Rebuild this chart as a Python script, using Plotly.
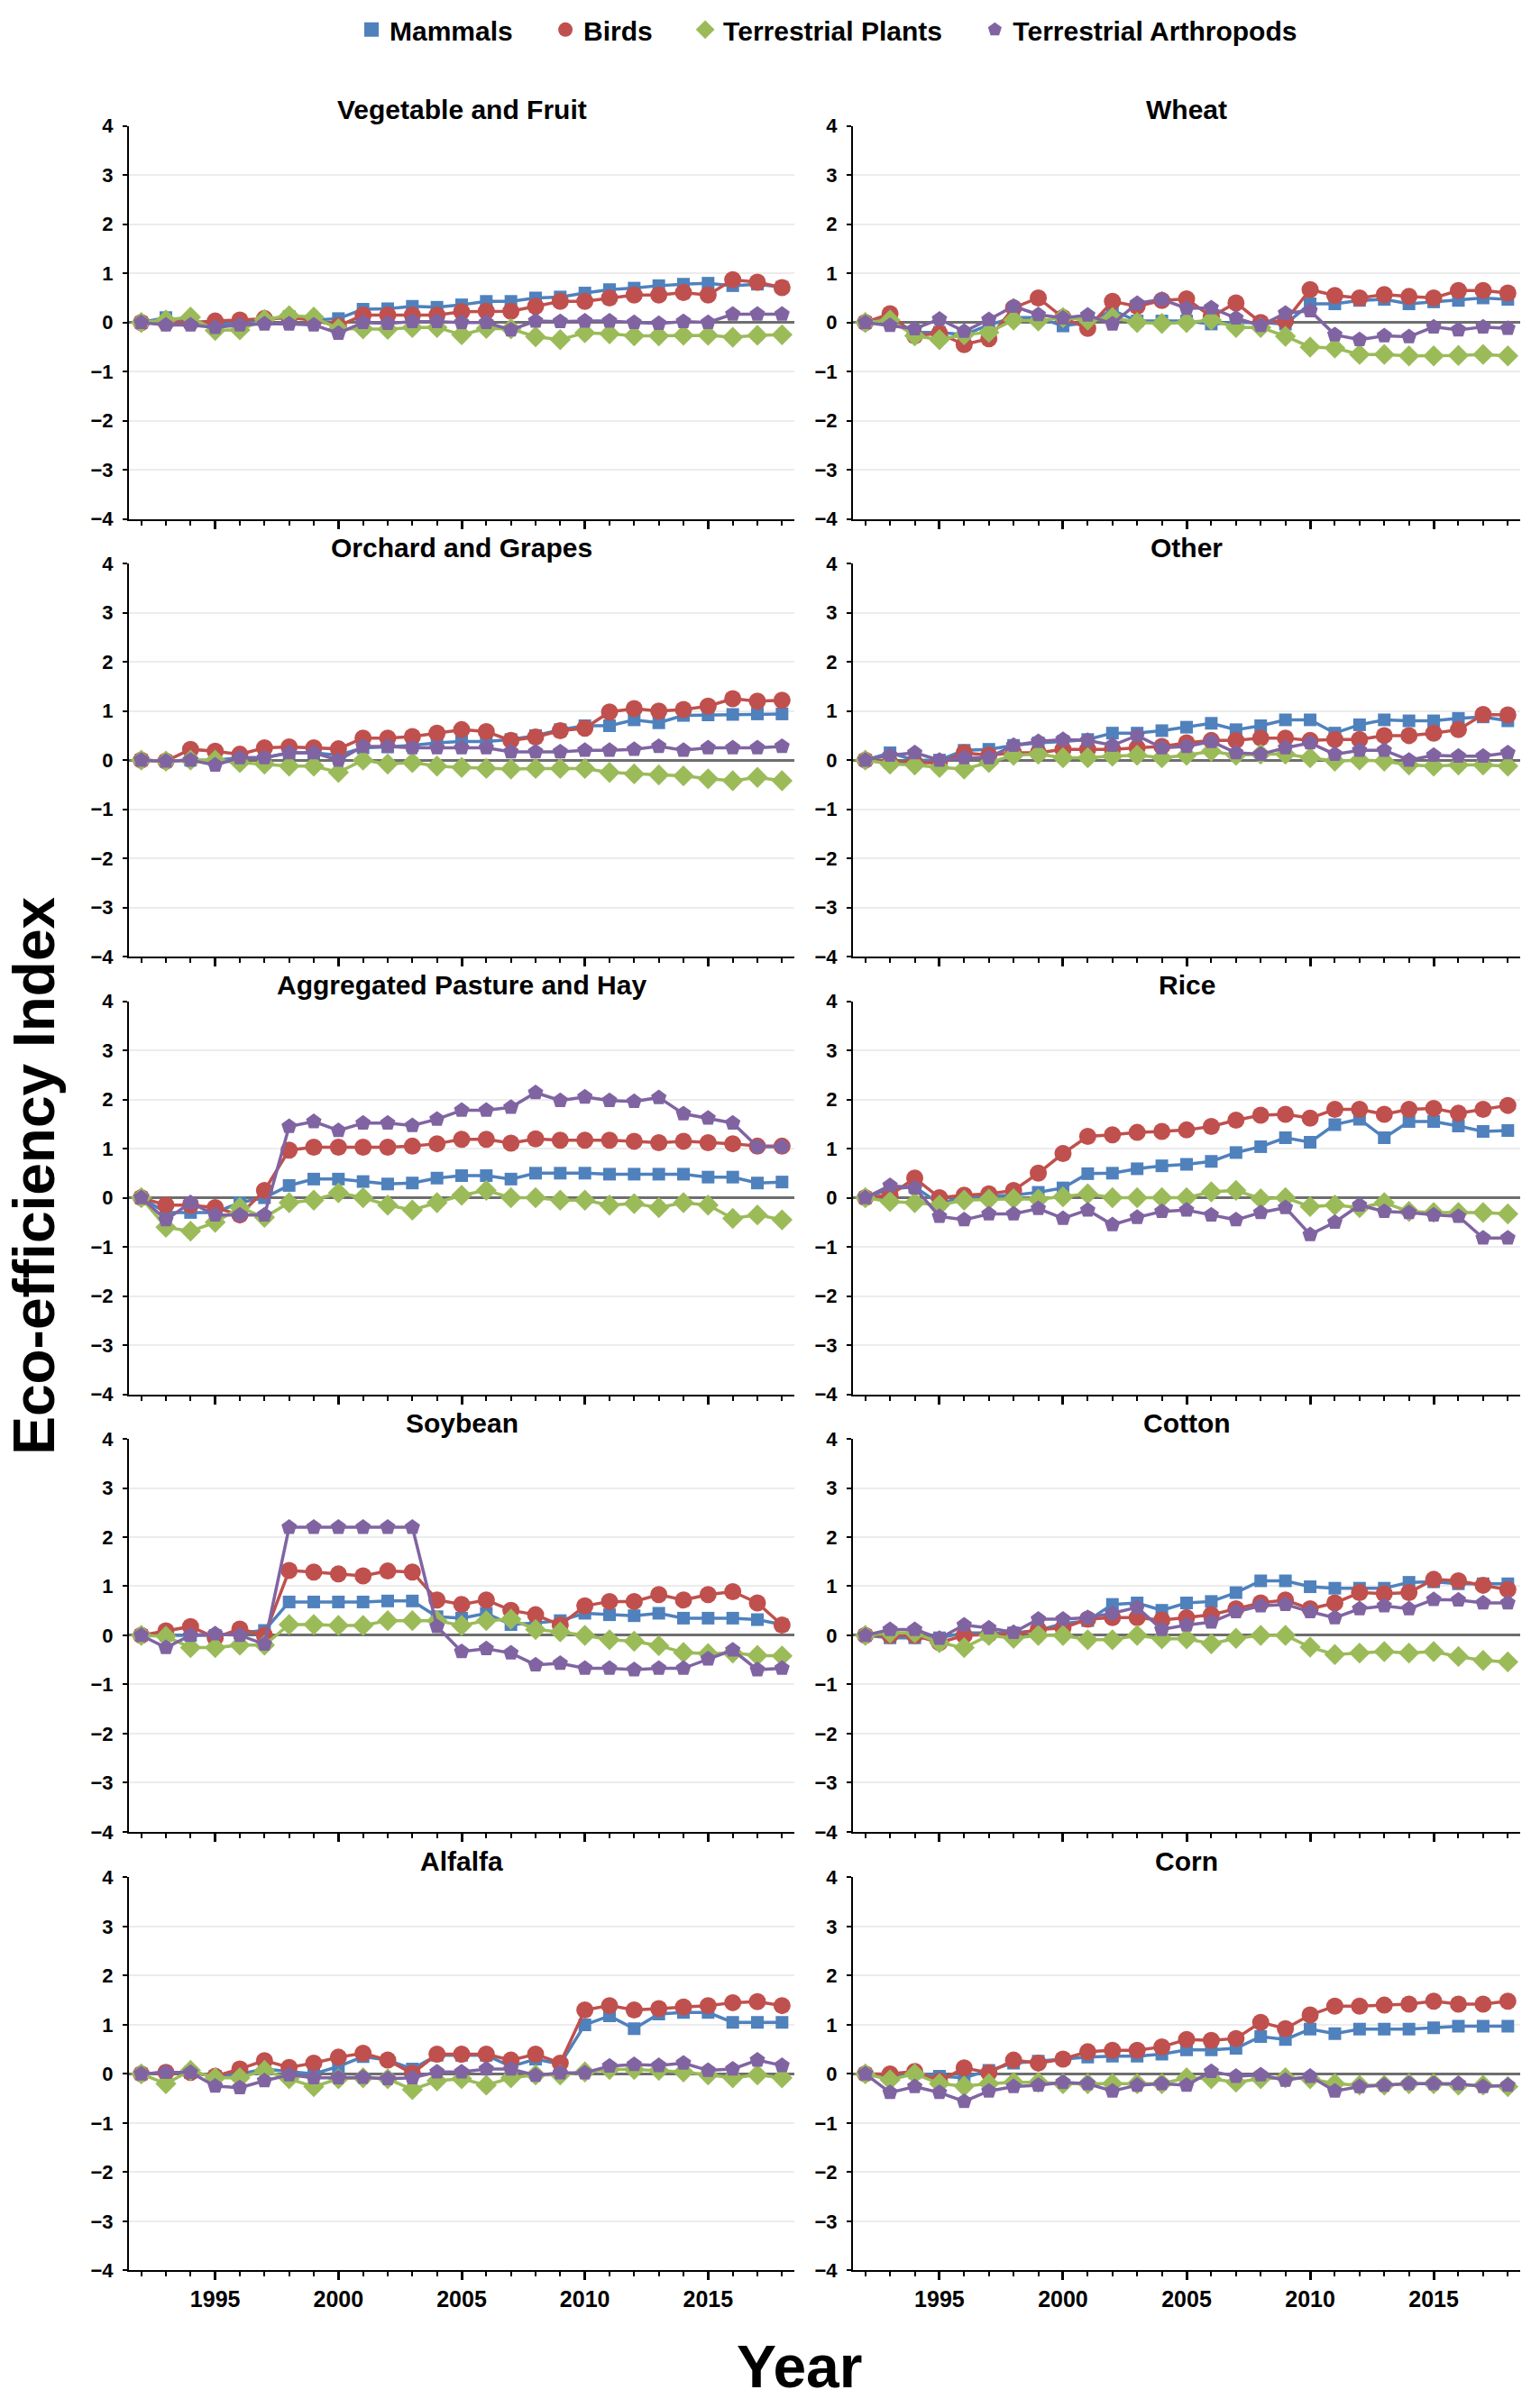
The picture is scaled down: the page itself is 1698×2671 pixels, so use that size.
import plotly.graph_objects as go

years = list(range(1992, 2019))

# values, 1992..2018
veg_mammals = [0, 0.1, 0.02, -0.05, 0.0, 0.05, 0.12, 0.05, 0.08, 0.27, 0.28, 0.33, 0.31, 0.36, 0.43, 0.43, 0.5, 0.52, 0.6, 0.67, 0.7, 0.75, 0.78, 0.8, 0.75, 0.78, 0.72]
veg_birds = [0, 0.0, 0.0, 0.03, 0.05, 0.08, 0.1, 0.05, -0.07, 0.15, 0.15, 0.15, 0.15, 0.22, 0.23, 0.23, 0.33, 0.43, 0.43, 0.5, 0.56, 0.56, 0.61, 0.56, 0.87, 0.82, 0.71]
veg_plants = [0, 0.05, 0.11, -0.16, -0.15, 0.06, 0.14, 0.11, -0.13, -0.13, -0.14, -0.1, -0.1, -0.25, -0.12, -0.13, -0.29, -0.35, -0.21, -0.23, -0.27, -0.27, -0.26, -0.26, -0.3, -0.26, -0.25]
veg_arthropods = [0, -0.05, -0.05, -0.1, -0.05, -0.03, -0.03, -0.05, -0.22, 0.0, -0.02, 0.02, 0.02, 0.0, 0.0, -0.15, 0.03, 0.02, 0.03, 0.03, 0.0, -0.02, 0.02, 0.0, 0.17, 0.17, 0.17]

wheat_mammals = [0, 0.1, -0.2, -0.2, -0.25, -0.05, 0.1, 0.1, -0.07, 0.0, 0.25, 0.03, 0.03, 0.03, -0.03, 0.0, 0.0, -0.03, 0.38, 0.38, 0.45, 0.47, 0.38, 0.42, 0.45, 0.5, 0.47]
wheat_birds = [0, 0.18, -0.27, -0.22, -0.45, -0.33, 0.3, 0.5, 0.1, -0.12, 0.43, 0.33, 0.45, 0.48, 0.12, 0.4, 0.0, 0.03, 0.67, 0.55, 0.5, 0.57, 0.53, 0.5, 0.65, 0.65, 0.6]
wheat_plants = [0, 0.05, -0.27, -0.35, -0.25, -0.2, 0.05, 0.03, 0.1, 0.05, 0.1, 0.0, -0.02, 0.0, 0.05, -0.1, -0.1, -0.28, -0.5, -0.52, -0.65, -0.65, -0.68, -0.68, -0.67, -0.65, -0.68]
wheat_arthropods = [0, -0.06, -0.13, 0.07, -0.18, 0.06, 0.33, 0.16, 0.09, 0.15, -0.03, 0.39, 0.47, 0.29, 0.3, 0.09, -0.06, 0.19, 0.24, -0.25, -0.35, -0.27, -0.29, -0.09, -0.15, -0.09, -0.12]

orchard_mammals = [0, -0.02, 0.0, 0.0, 0.05, 0.05, 0.15, 0.15, 0.1, 0.25, 0.27, 0.3, 0.35, 0.38, 0.38, 0.42, 0.5, 0.62, 0.7, 0.7, 0.82, 0.76, 0.91, 0.92, 0.93, 0.94, 0.94]
orchard_birds = [0, -0.02, 0.22, 0.18, 0.12, 0.25, 0.27, 0.25, 0.23, 0.45, 0.45, 0.48, 0.55, 0.62, 0.58, 0.4, 0.47, 0.6, 0.65, 0.98, 1.05, 1.0, 1.03, 1.1, 1.25, 1.2, 1.22]
orchard_plants = [0, -0.02, 0.0, 0.0, -0.05, -0.08, -0.12, -0.12, -0.25, 0.0, -0.08, -0.05, -0.12, -0.15, -0.17, -0.18, -0.17, -0.17, -0.17, -0.25, -0.28, -0.3, -0.32, -0.38, -0.42, -0.35, -0.42]
orchard_arthropods = [0, -0.02, 0.0, -0.1, 0.05, 0.05, 0.15, 0.15, 0.0, 0.28, 0.28, 0.25, 0.25, 0.25, 0.25, 0.17, 0.17, 0.17, 0.2, 0.2, 0.22, 0.28, 0.2, 0.25, 0.25, 0.25, 0.28]

other_mammals = [0, 0.15, 0.0, 0.0, 0.2, 0.22, 0.3, 0.35, 0.38, 0.42, 0.55, 0.55, 0.6, 0.67, 0.75, 0.62, 0.7, 0.82, 0.82, 0.55, 0.72, 0.82, 0.8, 0.8, 0.85, 0.88, 0.8]
other_birds = [0, -0.05, -0.05, -0.05, 0.15, 0.1, 0.15, 0.15, 0.22, 0.22, 0.22, 0.25, 0.28, 0.35, 0.4, 0.4, 0.45, 0.45, 0.4, 0.42, 0.42, 0.5, 0.5, 0.55, 0.62, 0.93, 0.92]
other_plants = [0, -0.08, -0.1, -0.15, -0.18, -0.05, 0.1, 0.12, 0.05, 0.05, 0.08, 0.1, 0.05, 0.1, 0.18, 0.1, 0.12, 0.12, 0.05, -0.02, 0.0, -0.02, -0.1, -0.12, -0.1, -0.1, -0.12]
other_arthropods = [0, 0.1, 0.15, 0.0, 0.05, 0.05, 0.3, 0.38, 0.42, 0.4, 0.3, 0.5, 0.25, 0.28, 0.38, 0.15, 0.12, 0.25, 0.35, 0.12, 0.2, 0.2, 0.0, 0.1, 0.08, 0.08, 0.15]

pasture_mammals = [0, -0.3, -0.3, -0.3, -0.1, 0.0, 0.25, 0.38, 0.38, 0.33, 0.28, 0.3, 0.4, 0.45, 0.45, 0.38, 0.5, 0.5, 0.5, 0.48, 0.48, 0.48, 0.48, 0.42, 0.42, 0.3, 0.32]
pasture_birds = [0, -0.15, -0.15, -0.2, -0.35, 0.15, 0.97, 1.03, 1.03, 1.03, 1.03, 1.05, 1.1, 1.19, 1.19, 1.11, 1.2, 1.17, 1.17, 1.17, 1.15, 1.12, 1.15, 1.12, 1.1, 1.05, 1.05]
pasture_plants = [0, -0.6, -0.68, -0.5, -0.2, -0.4, -0.1, -0.05, 0.1, 0.0, -0.15, -0.25, -0.1, 0.05, 0.15, 0.0, 0.0, -0.05, -0.05, -0.15, -0.12, -0.2, -0.1, -0.15, -0.42, -0.35, -0.45]
pasture_arthropods = [0, -0.45, -0.1, -0.35, -0.35, -0.35, 1.45, 1.55, 1.37, 1.52, 1.52, 1.47, 1.6, 1.78, 1.78, 1.84, 2.14, 1.98, 2.05, 1.98, 1.96, 2.04, 1.71, 1.62, 1.52, 1.04, 1.04]

rice_mammals = [0, 0.18, 0.22, -0.12, 0.02, 0.03, 0.05, 0.11, 0.2, 0.49, 0.5, 0.59, 0.65, 0.68, 0.74, 0.92, 1.04, 1.22, 1.13, 1.49, 1.6, 1.22, 1.55, 1.55, 1.46, 1.35, 1.37]
rice_birds = [0, 0.05, 0.4, 0.0, 0.05, 0.08, 0.15, 0.5, 0.9, 1.25, 1.28, 1.33, 1.35, 1.38, 1.45, 1.58, 1.68, 1.7, 1.62, 1.8, 1.8, 1.7, 1.8, 1.82, 1.72, 1.8, 1.88]
rice_plants = [0, -0.08, -0.1, -0.15, -0.05, -0.03, -0.02, -0.03, 0.02, 0.08, 0.0, 0.0, 0.0, 0.0, 0.12, 0.15, -0.02, 0.0, -0.18, -0.15, -0.2, -0.1, -0.28, -0.3, -0.3, -0.3, -0.33]
rice_arthropods = [0, 0.25, 0.2, -0.38, -0.45, -0.33, -0.33, -0.22, -0.42, -0.25, -0.55, -0.4, -0.28, -0.25, -0.35, -0.45, -0.3, -0.2, -0.75, -0.5, -0.15, -0.28, -0.3, -0.35, -0.38, -0.82, -0.82]

soy_mammals = [0, 0.0, 0.0, 0.0, 0.05, 0.1, 0.68, 0.68, 0.68, 0.68, 0.7, 0.7, 0.38, 0.35, 0.45, 0.22, 0.25, 0.3, 0.45, 0.42, 0.4, 0.45, 0.35, 0.35, 0.35, 0.32, 0.22]
soy_birds = [0, 0.09, 0.18, -0.05, 0.13, 0.0, 1.32, 1.29, 1.25, 1.21, 1.31, 1.29, 0.72, 0.63, 0.72, 0.51, 0.42, 0.21, 0.6, 0.69, 0.69, 0.83, 0.72, 0.83, 0.89, 0.66, 0.21]
soy_plants = [0, -0.02, -0.25, -0.25, -0.2, -0.2, 0.22, 0.22, 0.2, 0.2, 0.3, 0.3, 0.3, 0.2, 0.3, 0.33, 0.12, 0.07, 0.0, -0.09, -0.12, -0.21, -0.35, -0.37, -0.36, -0.41, -0.42]
soy_arthropods = [0, -0.25, 0.0, 0.03, 0.0, -0.18, 2.2, 2.2, 2.2, 2.2, 2.2, 2.2, 0.18, -0.33, -0.27, -0.36, -0.6, -0.57, -0.67, -0.67, -0.7, -0.67, -0.67, -0.48, -0.3, -0.7, -0.67]

cotton_mammals = [0, -0.05, -0.05, -0.05, 0.05, 0.05, 0.05, 0.1, 0.24, 0.3, 0.63, 0.66, 0.51, 0.66, 0.69, 0.87, 1.11, 1.11, 0.99, 0.96, 0.96, 0.96, 1.08, 1.09, 1.05, 1.05, 1.05]
cotton_birds = [0, 0.0, 0.0, -0.15, 0.0, 0.02, 0.02, 0.12, 0.15, 0.33, 0.36, 0.36, 0.31, 0.36, 0.42, 0.54, 0.66, 0.72, 0.54, 0.66, 0.87, 0.85, 0.87, 1.14, 1.11, 1.02, 0.93]
cotton_plants = [0, 0.05, 0.05, -0.15, -0.25, 0.0, -0.06, 0.0, 0.0, -0.09, -0.09, 0.0, -0.07, -0.07, -0.17, -0.06, 0.0, 0.0, -0.24, -0.39, -0.36, -0.33, -0.36, -0.33, -0.43, -0.51, -0.54]
cotton_arthropods = [0, 0.12, 0.12, -0.06, 0.21, 0.15, 0.06, 0.33, 0.33, 0.36, 0.45, 0.57, 0.12, 0.21, 0.27, 0.48, 0.6, 0.63, 0.48, 0.36, 0.54, 0.6, 0.54, 0.73, 0.72, 0.66, 0.66]

alfalfa_mammals = [0, 0.03, 0.03, -0.05, 0.0, 0.1, 0.05, 0.0, 0.15, 0.35, 0.28, 0.1, 0.38, 0.38, 0.38, 0.15, 0.3, 0.2, 1.0, 1.18, 0.92, 1.22, 1.25, 1.25, 1.05, 1.05, 1.05]
alfalfa_birds = [0, 0.03, 0.03, -0.05, 0.1, 0.27, 0.13, 0.22, 0.34, 0.42, 0.28, 0.01, 0.4, 0.4, 0.4, 0.28, 0.4, 0.22, 1.3, 1.39, 1.3, 1.33, 1.36, 1.39, 1.45, 1.47, 1.39]
alfalfa_plants = [0, -0.2, 0.07, -0.08, -0.08, 0.07, -0.1, -0.26, -0.1, -0.08, -0.1, -0.32, -0.14, -0.1, -0.23, -0.08, -0.02, -0.02, 0.04, 0.09, 0.09, 0.07, 0.04, -0.02, -0.08, -0.02, -0.08]
alfalfa_arthropods = [0, 0.03, 0.03, -0.25, -0.28, -0.14, -0.02, -0.08, -0.08, -0.07, -0.1, -0.08, 0.04, 0.04, 0.1, 0.1, -0.03, 0.02, 0.02, 0.16, 0.19, 0.17, 0.22, 0.07, 0.1, 0.28, 0.17]

corn_mammals = [0, -0.05, 0.02, -0.05, -0.08, 0.07, 0.22, 0.26, 0.3, 0.34, 0.36, 0.36, 0.4, 0.49, 0.49, 0.52, 0.76, 0.7, 0.91, 0.82, 0.91, 0.91, 0.91, 0.94, 0.97, 0.97, 0.97]
corn_birds = [0, 0.0, 0.05, -0.15, 0.12, 0.02, 0.28, 0.22, 0.3, 0.45, 0.48, 0.48, 0.55, 0.7, 0.68, 0.72, 1.05, 0.92, 1.2, 1.38, 1.38, 1.4, 1.42, 1.48, 1.42, 1.42, 1.48]
corn_plants = [0, -0.12, 0.0, -0.2, -0.25, -0.2, -0.17, -0.17, -0.2, -0.2, -0.2, -0.2, -0.2, -0.08, -0.1, -0.17, -0.1, -0.08, -0.1, -0.2, -0.23, -0.23, -0.2, -0.2, -0.23, -0.23, -0.26]
corn_arthropods = [0, -0.38, -0.26, -0.38, -0.56, -0.35, -0.26, -0.23, -0.17, -0.2, -0.35, -0.23, -0.2, -0.23, 0.05, -0.05, -0.02, -0.13, -0.05, -0.35, -0.26, -0.23, -0.2, -0.2, -0.2, -0.26, -0.23]

# panel order: left-to-right, top-to-bottom
panels = [
    ('Vegetable and Fruit', [veg_mammals, veg_birds, veg_plants, veg_arthropods]),
    ('Wheat', [wheat_mammals, wheat_birds, wheat_plants, wheat_arthropods]),
    ('Orchard and Grapes', [orchard_mammals, orchard_birds, orchard_plants, orchard_arthropods]),
    ('Other', [other_mammals, other_birds, other_plants, other_arthropods]),
    ('Aggregated Pasture and Hay', [pasture_mammals, pasture_birds, pasture_plants, pasture_arthropods]),
    ('Rice', [rice_mammals, rice_birds, rice_plants, rice_arthropods]),
    ('Soybean', [soy_mammals, soy_birds, soy_plants, soy_arthropods]),
    ('Cotton', [cotton_mammals, cotton_birds, cotton_plants, cotton_arthropods]),
    ('Alfalfa', [alfalfa_mammals, alfalfa_birds, alfalfa_plants, alfalfa_arthropods]),
    ('Corn', [corn_mammals, corn_birds, corn_plants, corn_arthropods]),
]

series_names = ['Mammals', 'Birds', 'Terrestrial Plants', 'Terrestrial Arthropods']
colors = ['#4F81BD', '#C0504D', '#9BBB59', '#8064A2']
symbols = ['square', 'circle', 'diamond', 'pentagon']
sizes = [14, 19, 18, 18]

W, H = 1698, 2671
FONT = 'Liberation Sans, Arial, sans-serif'
col_x = [(143, 881), (946, 1686)]
row_top = [129, 619, 1109, 1599, 2090]
plot_h = 440

fig = go.Figure()
layout = {}
annotations = []

for i, (title, series) in enumerate(panels):
    r, c = divmod(i, 2)
    n = '' if i == 0 else str(i + 1)
    x0, x1 = col_x[c]
    top = row_top[r]
    xdom = [x0 / W, x1 / W]
    ydom = [1 - (top + plot_h) / H, 1 - top / H]

    for k in range(4):
        fig.add_trace(go.Scatter(
            x=years, y=series[k], mode='lines+markers', name=series_names[k],
            line=dict(color=colors[k], width=3.5),
            marker=dict(symbol=symbols[k], size=sizes[k], color=colors[k]),
            xaxis='x' + n, yaxis='y' + n, showlegend=False,
        ))

    layout['xaxis' + n] = dict(
        domain=xdom, anchor='y' + n, range=[1991.5, 2018.5],
        showline=True, linecolor='black', linewidth=2,
        ticks='outside', tick0=1995, dtick=5, ticklen=9, tickwidth=3, tickcolor='black',
        minor=dict(ticks='outside', tick0=1992, dtick=1, ticklen=5, tickwidth=1.5,
                   tickcolor='black', showgrid=False),
        showgrid=False, zeroline=False, showticklabels=(r == 4),
        tickfont=dict(family=FONT, size=25, color='black', weight='bold'),
    )
    layout['yaxis' + n] = dict(
        domain=ydom, anchor='x' + n, range=[-4, 4], dtick=1,
        showline=True, linecolor='black', linewidth=2,
        ticks='outside', ticklen=5, tickwidth=1.5, tickcolor='black',
        ticklabelstandoff=6,
        showgrid=True, gridcolor='#ececec', gridwidth=1.5,
        zeroline=True, zerolinecolor='#6e6e6e', zerolinewidth=2.5,
        tickfont=dict(family=FONT, size=22, color='black', weight='bold'),
    )
    annotations.append(dict(
        text=title, x=(xdom[0] + xdom[1]) / 2, y=ydom[1], xref='paper', yref='paper',
        xanchor='center', yanchor='middle', yshift=18, showarrow=False,
        font=dict(family=FONT, size=30, color='black', weight='bold'),
    ))

# legend-only entries (markers without lines, as in the original)
pad = '\u00a0' * 4
for k in range(4):
    fig.add_trace(go.Scatter(
        x=[None], y=[None], mode='markers',
        name=series_names[k] + (pad if k < 3 else ''),
        marker=dict(symbol=symbols[k], size=22, color=colors[k]),
        showlegend=True,
    ))

annotations.append(dict(
    text='Year', x=886 / W, y=1 - 2638 / H, xref='paper', yref='paper',
    xanchor='center', yanchor='middle', showarrow=False,
    font=dict(family=FONT, size=66, color='black', weight='bold'),
))
annotations.append(dict(
    text='Eco-efficiency Index', x=0, y=1 - 1305 / H, xref='paper', yref='paper',
    xanchor='left', yanchor='middle', textangle=-90, showarrow=False,
    font=dict(family=FONT, size=64, color='black', weight='bold'),
))

fig.update_layout(
    **layout,
    annotations=annotations,
    width=W, height=H,
    margin=dict(l=0, r=0, t=0, b=0),
    paper_bgcolor='white', plot_bgcolor='white',
    font=dict(family=FONT, color='black'),
    legend=dict(
        orientation='h', x=918 / W, xanchor='center', y=1 - 21 / H, yanchor='middle',
        font=dict(family=FONT, size=30, color='black', weight='bold'),
        itemsizing='trace', bgcolor='rgba(0,0,0,0)',
    ),
)

fig.write_html("out.html", config={'displayModeBar': False},
               post_script="document.body.style.margin='0';")
